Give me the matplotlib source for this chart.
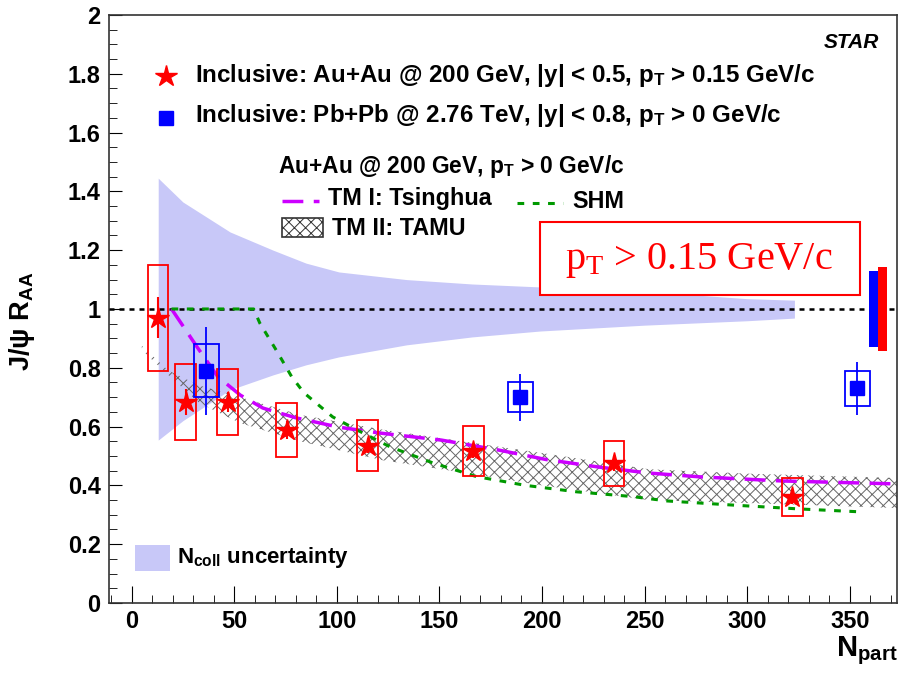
import numpy as np
import matplotlib
matplotlib.use("Agg")
import matplotlib.pyplot as plt
from matplotlib.patches import Rectangle
from matplotlib.lines import Line2D
from matplotlib.ticker import MultipleLocator, FuncFormatter

plt.rcParams['font.family'] = ['Liberation Sans', 'DejaVu Sans']
plt.rcParams['font.weight'] = 'bold'
plt.rcParams['mathtext.default'] = 'regular'
plt.rcParams['hatch.linewidth'] = 0.7
plt.rcParams['hatch.color'] = '#555555'

# STAR inclusive J/psi, Au+Au 200 GeV, pT > 0.15 GeV/c
star_npart = [13, 26.3, 46.8, 75.6, 115, 166.6, 235, 322]
star_raa = [0.97, 0.684, 0.684, 0.588, 0.535, 0.517, 0.475, 0.36]
star_stat = [0.07, 0.045, 0.035, 0.03, 0.025, 0.025, 0.025, 0.025]
star_sys = [0.18, 0.128, 0.111, 0.092, 0.087, 0.085, 0.077, 0.065]

# ALICE inclusive J/psi, Pb+Pb 2.76 TeV
alice_npart = [36.5, 189.5, 353.6]
alice_raa = [0.79, 0.70, 0.73]
alice_stat = [0.15, 0.08, 0.09]
alice_sys = [0.09, 0.05, 0.06]

# global uncertainties (ALICE, STAR)
glob_unc = [0.129, 0.143]

# Ncoll uncertainty band
ncoll_x = [13, 25, 48, 69, 85, 101, 134, 166, 199, 250, 300, 323]
ncoll_hi = [1.445, 1.364, 1.262, 1.20, 1.156, 1.126, 1.10, 1.085, 1.075, 1.06, 1.035, 1.03]
ncoll_lo = [0.554, 0.62, 0.725, 0.776, 0.81, 0.837, 0.878, 0.905, 0.925, 0.945, 0.96, 0.969]

# TM I: Tsinghua
tm1_x = [19.5, 32, 42, 53, 64, 80, 101, 121, 151, 179, 202, 228, 252, 277, 317, 373]
tm1_y = [1.0, 0.87, 0.77, 0.707, 0.663, 0.63, 0.598, 0.578, 0.554, 0.52, 0.488, 0.462,
         0.442, 0.429, 0.415, 0.405]

# SHM
shm_x = [19.5, 59.5, 62.5, 70.5, 78, 84, 98, 110, 126, 147, 168, 192, 217, 244, 261, 293, 325, 355]
shm_y = [1.0, 1.0, 0.952, 0.86, 0.77, 0.715, 0.633, 0.588, 0.531, 0.476, 0.43, 0.40,
         0.378, 0.362, 0.347, 0.333, 0.32, 0.31]

# TM II: TAMU band
tamu_x = [5, 18, 33, 53, 82, 122, 163, 200, 252, 300, 373]
tamu_hi = [0.875, 0.79, 0.74, 0.70, 0.64, 0.59, 0.548, 0.51, 0.455, 0.44, 0.425]
tamu_lo = [0.86, 0.775, 0.68, 0.612, 0.55, 0.486, 0.442, 0.40, 0.35, 0.34, 0.323]

fig = plt.figure(figsize=(8.99, 6.75), dpi=100)
ax = fig.add_axes([0.1212, 0.1067, 0.8766, 0.8711])

band_col = '#c8c8f8'
ax.fill_between(ncoll_x, ncoll_lo, ncoll_hi, color=band_col, lw=0, zorder=1)
ax.fill_between(tamu_x, tamu_lo, tamu_hi, facecolor='none', edgecolor='#666666',
                hatch='xxx', lw=0, zorder=2)
ax.axhline(1.0, color='black', lw=1.8, ls=(0, (2, 2)), zorder=3)
ax.plot(tm1_x, tm1_y, color='#cc00ff', lw=2.5, ls=(0, (6, 3)), zorder=4)
ax.plot(shm_x, shm_y, color='#009900', lw=2.2, ls=(0, (2.2, 2.8)), zorder=4)

# systematic boxes
for x, y, s in zip(star_npart, star_raa, star_sys):
    ax.add_patch(Rectangle((x - 5, y - s), 10, 2 * s, fill=False, ec='red', lw=1.3, zorder=5))
for x, y, s in zip(alice_npart, alice_raa, alice_sys):
    ax.add_patch(Rectangle((x - 6, y - s), 12, 2 * s, fill=False, ec='blue', lw=1.3, zorder=5))

ax.errorbar(alice_npart, alice_raa, yerr=alice_stat, fmt='s', color='blue', ms=10,
            elinewidth=1.3, capsize=0, zorder=6)
ax.errorbar(star_npart, star_raa, yerr=star_stat, fmt='*', color='red', ms=16,
            elinewidth=1.5, capsize=0, zorder=7)

# global uncertainty bars at right edge
ax.bar([361.5, 365.9], [2 * g for g in glob_unc], bottom=[1 - g for g in glob_unc],
       width=4.4, color=['blue', 'red'], zorder=6)

ax.set_xlim(-11, 373)
ax.set_ylim(0, 2)
ax.xaxis.set_major_locator(MultipleLocator(50))
ax.xaxis.set_minor_locator(MultipleLocator(10))
ax.yaxis.set_major_locator(MultipleLocator(0.2))
ax.yaxis.set_minor_locator(MultipleLocator(0.05))
ax.yaxis.set_major_formatter(FuncFormatter(lambda v, p: '%g' % round(v, 2)))
ax.tick_params(which='both', direction='in', top=False, right=False, labelsize=17)
ax.tick_params(axis='y', which='major', length=9.4, pad=6)
ax.tick_params(axis='y', which='minor', length=5.4)
ax.tick_params(axis='x', which='major', length=12.2, pad=5)
ax.tick_params(axis='x', which='minor', length=5.8)
for sp in ax.spines.values():
    sp.set_linewidth(1.2)
    sp.set_color('#333333')

fig.text(0.008, 0.524, r'J/ψ R$_\mathregular{AA}$', fontsize=19.5, fontweight='bold',
         rotation=90, ha='left', va='center')
fig.text(0.998, 0.012, r'N$_\mathregular{part}$', fontsize=21, ha='right', va='bottom')

# legend / annotations (axes coordinates)
tr = ax.transAxes
ax.text(0.977, 0.954, 'STAR', transform=tr, fontsize=15, style='italic', ha='right', va='center')
ax.plot([0.0723], [0.896], '*', color='red', ms=16, transform=tr, clip_on=False)
ax.text(0.109, 0.886, r'Inclusive: Au+Au @ 200 GeV, |y| < 0.5, p$_\mathregular{T}$ > 0.15 GeV/c',
        transform=tr, fontsize=17.4, va='baseline')
ax.plot([0.0723], [0.825], 's', color='blue', ms=10, transform=tr)
ax.text(0.109, 0.818, r'Inclusive: Pb+Pb @ 2.76 TeV, |y| < 0.8, p$_\mathregular{T}$ > 0 GeV/c',
        transform=tr, fontsize=17.4, va='baseline')
ax.text(0.215, 0.731, r'Au+Au @ 200 GeV, p$_\mathregular{T}$ > 0 GeV/c', transform=tr,
        fontsize=16.4, va='baseline')
ax.add_line(Line2D([0.219, 0.266], [0.684, 0.684], transform=tr, color='#cc00ff', lw=2.5,
                   ls=(0, (6, 3))))
ax.text(0.278, 0.677, 'TM I: Tsinghua', transform=tr, fontsize=16.8, va='baseline')
ax.add_line(Line2D([0.518, 0.576], [0.680, 0.680], transform=tr, color='#009900', lw=2.2,
                   ls=(0, (2.2, 2.8))))
ax.text(0.588, 0.672, 'SHM', transform=tr, fontsize=16.8, va='baseline')
ax.add_patch(Rectangle((0.219, 0.622), 0.052, 0.032, transform=tr, facecolor='white',
                       edgecolor='#333333', hatch='xxx', lw=1.2))
ax.text(0.283, 0.626, 'TM II: TAMU', transform=tr, fontsize=16.8, va='baseline')

ax.add_patch(Rectangle((0.547, 0.524), 0.406, 0.124, transform=tr, facecolor='white',
                       edgecolor='red', lw=1.5, zorder=8))
ax.text(0.748, 0.582, r'p$_\mathregular{T}$ > 0.15 GeV/c', transform=tr, color='red',
        family=['Liberation Serif', 'DejaVu Serif'], weight='normal', fontsize=29,
        ha='center', va='center', zorder=9)

ax.add_patch(Rectangle((0.033, 0.054), 0.044, 0.045, transform=tr, color=band_col, lw=0))
ax.text(0.086, 0.068, r'N$_\mathregular{coll}$ uncertainty', transform=tr, fontsize=16,
        va='baseline')

fig.savefig('out.png', dpi=100)
